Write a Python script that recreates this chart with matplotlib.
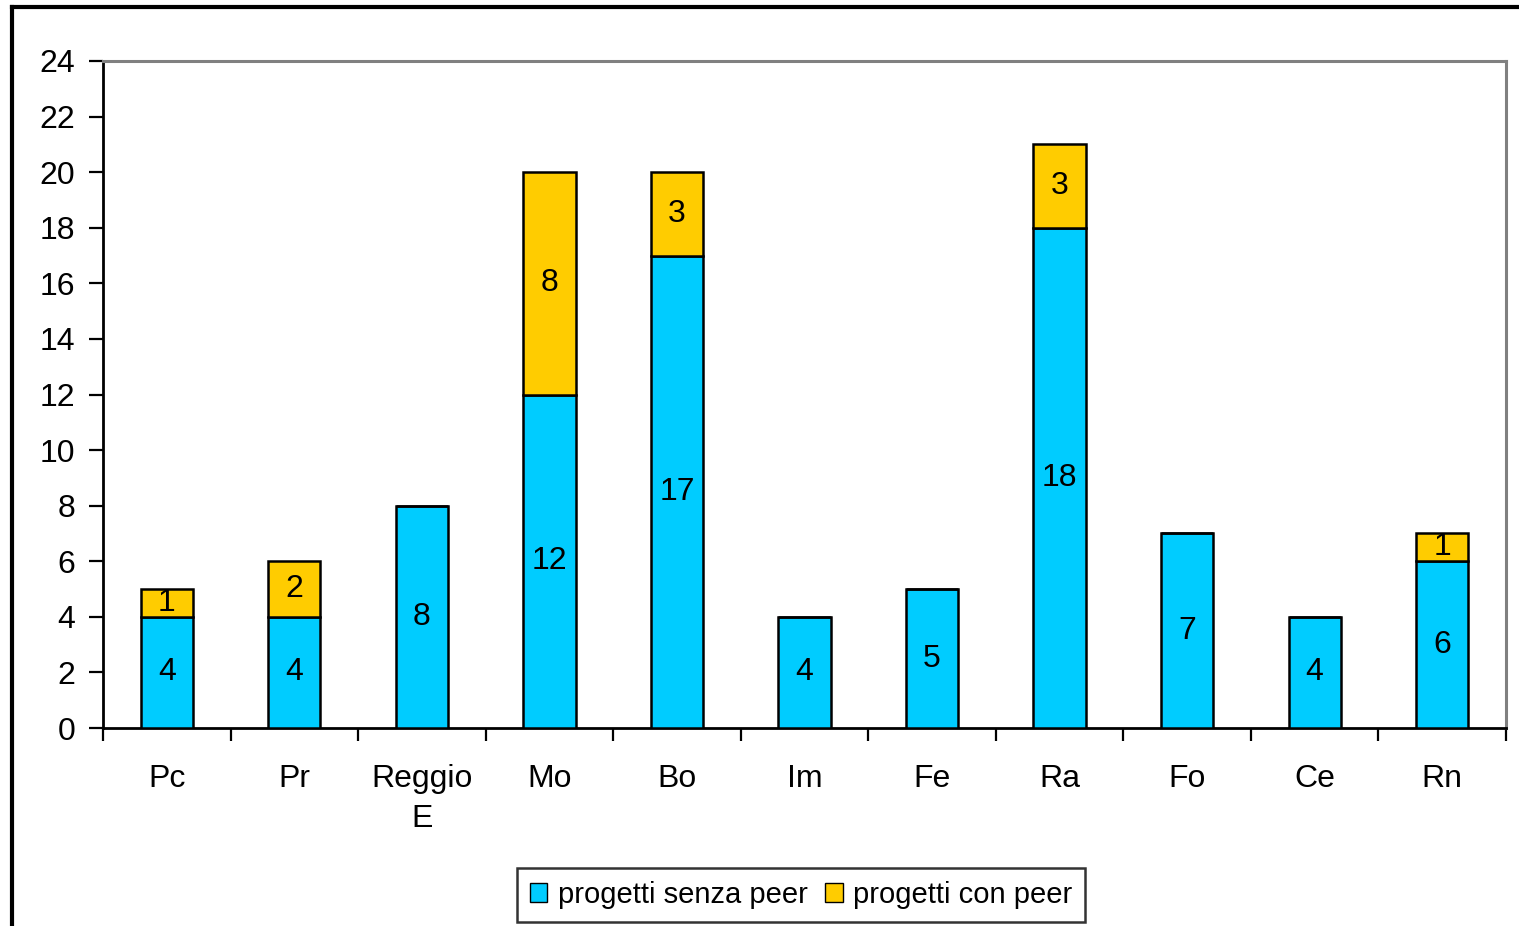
import numpy as np
import matplotlib.pyplot as plt
from matplotlib.lines import Line2D
from matplotlib.patches import Patch

plt.rcParams['font.family'] = ['Liberation Sans', 'DejaVu Sans']

provinces = ["Pc", "Pr", "Reggio\nE", "Mo", "Bo", "Im", "Fe", "Ra", "Fo", "Ce", "Rn"]
senza_peer = [4, 4, 8, 12, 17, 4, 5, 18, 7, 4, 6]
con_peer = [1, 2, 0, 8, 3, 0, 0, 3, 0, 0, 1]

cyan = "#00CCFF"
gold = "#FFCC00"
fs = 23

fig = plt.figure(figsize=(15.19, 9.26), dpi=100)
ax = fig.add_axes([103 / 1519, 1 - 728 / 926, 1403 / 1519, 667 / 926])

x = np.arange(len(provinces))
w = 0.41
b1 = ax.bar(x, senza_peer, width=w, color=cyan, edgecolor="black", linewidth=1.8, zorder=3)
b2 = ax.bar(x, con_peer, width=w, bottom=senza_peer, color=gold, edgecolor="black",
            linewidth=1.8, zorder=3)

for i in range(len(provinces)):
    ax.text(x[i], senza_peer[i] / 2, str(senza_peer[i]), ha="center", va="center",
            fontsize=fs, zorder=4)
    if con_peer[i] > 0:
        ax.text(x[i], senza_peer[i] + con_peer[i] / 2, str(con_peer[i]), ha="center",
                va="center", fontsize=fs, zorder=4)

ax.set_xlim(-0.5, len(provinces) - 0.5)
ax.set_ylim(0, 24)
ax.set_yticks(np.arange(0, 25, 2))
ax.set_xticks(np.arange(-0.5, len(provinces), 1))
ax.set_xticklabels([])
ax.set_xticks(x, minor=True)
ax.set_xticklabels(provinces, minor=True, fontsize=fs, linespacing=1.45)
ax.tick_params(axis="x", which="minor", length=0, pad=26)
ax.tick_params(axis="x", which="major", direction="out", length=9, width=1.6)
ax.tick_params(axis="y", direction="out", length=10, width=1.6, labelsize=fs, pad=10)

for s in ["left", "bottom"]:
    ax.spines[s].set_color("black")
    ax.spines[s].set_linewidth(2)
for s in ["top", "right"]:
    ax.spines[s].set_color("#808080")
    ax.spines[s].set_linewidth(2.2)

handles = [Patch(facecolor=cyan, edgecolor="black", label="progetti senza peer"),
           Patch(facecolor=gold, edgecolor="black", label="progetti con peer")]
leg = fig.legend(handles=handles, loc="center", bbox_to_anchor=(801 / 1519, 1 - 895 / 926),
                 ncol=2, fontsize=21, frameon=True, fancybox=False, handlelength=0.6,
                 handleheight=0.6, handletextpad=0.35, columnspacing=0.6, borderpad=0.45,
                 borderaxespad=0)
leg.get_frame().set_edgecolor("black")
leg.get_frame().set_linewidth(1.8)

# outer chart frame (left and top edges)
fig.add_artist(Line2D([12 / 1519, 12 / 1519], [0, 1 - 7 / 926], color="black", linewidth=3,
                      transform=fig.transFigure))
fig.add_artist(Line2D([12 / 1519, 1], [1 - 7 / 926, 1 - 7 / 926], color="black", linewidth=3,
                      transform=fig.transFigure))

fig.savefig("out.png", dpi=100)
